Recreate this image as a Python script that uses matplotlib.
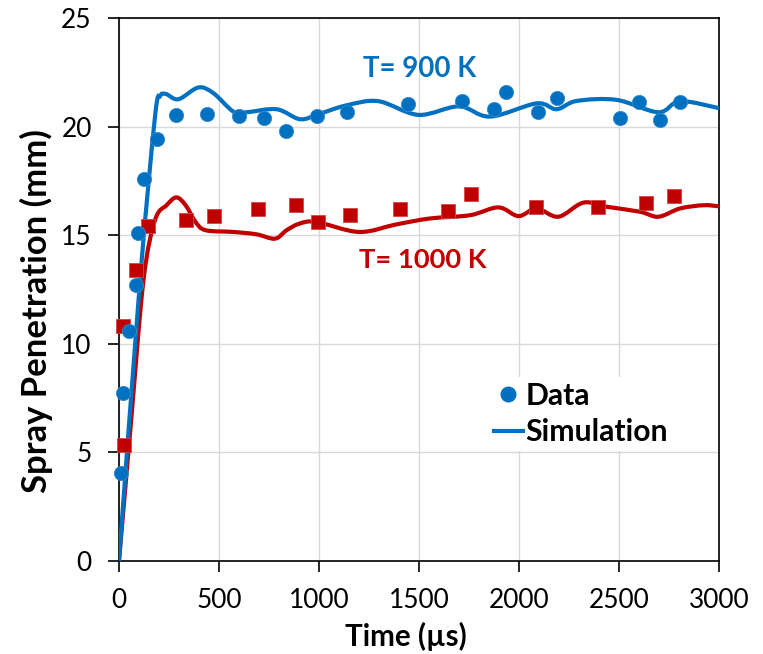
import matplotlib
matplotlib.use("Agg")
import numpy as np
import matplotlib.pyplot as plt
from matplotlib.lines import Line2D
from matplotlib.path import Path
from matplotlib.patches import PathPatch

FONT = ['Lato', 'DejaVu Sans']
plt.rcParams['font.family'] = FONT

# Measured data (T = 900 K)
t900_data = [8, 20, 52, 83, 95, 127, 190, 285, 440, 598, 723, 835, 992, 1142, 1447,
             1717, 1875, 1935, 2097, 2188, 2505, 2598, 2705, 2805]
s900_data = [4.05, 7.72, 10.61, 12.69, 15.1, 17.6, 19.41, 20.52, 20.6, 20.5, 20.41, 19.81,
             20.5, 20.69, 21.03, 21.2, 20.81, 21.61, 20.69, 21.3, 20.41, 21.12, 20.31, 21.12]

# Measured data (T = 1000 K)
t1000_data = [22, 23, 83, 147, 333, 475, 695, 883, 993, 1155, 1405, 1647, 1758, 2085,
              2397, 2635, 2777]
s1000_data = [10.8, 5.32, 13.38, 15.43, 15.72, 15.9, 16.21, 16.41, 15.61, 15.92, 16.2,
              16.12, 16.89, 16.3, 16.3, 16.5, 16.81]

# Simulation (T = 900 K)
t900_sim = [0, 105, 180, 205, 235, 297, 397, 472, 572, 638, 788, 905, 1000, 1138, 1297,
            1497, 1700, 1855, 2088, 2188, 2288, 2488, 2697, 2805, 3000]
s900_sim = [0, 12.9, 20.45, 21.4, 21.5, 21.26, 21.8, 21.54, 20.69, 20.66, 20.8, 20.34,
            20.58, 20.98, 21.17, 20.54, 20.93, 20.46, 21.07, 20.8, 21.18, 21.23, 20.66,
            21.17, 20.85]

# Simulation (T = 1000 K)
t1000_sim = [0, 60, 122, 180, 238, 287, 333, 383, 433, 572, 688, 780, 838, 905, 988,
             1200, 1388, 1555, 1755, 1897, 1997, 2088, 2197, 2322, 2438, 2605, 2697, 2805,
             2922, 3000]
s1000_sim = [0, 6.4, 12.9, 15.69, 16.38, 16.74, 16.38, 15.61, 15.23, 15.15, 15.04, 14.84,
             15.23, 15.54, 15.61, 15.15, 15.5, 15.77, 15.92, 16.28, 15.88, 16.23, 15.85,
             16.5, 16.31, 16.08, 15.85, 16.23, 16.38, 16.33]

x_ticks = [0, 500, 1000, 1500, 2000, 2500, 3000]
y_ticks = [0, 5, 10, 15, 20, 25]

blue = '#0070C0'
red = '#C00000'


def smooth_path(x, y):
    """Smoothed (Catmull-Rom style) line through the given points, as a Bezier path."""
    x = np.asarray(x, float)
    y = np.asarray(y, float)
    n = len(x)
    verts = [(x[0], y[0])]
    codes = [Path.MOVETO]
    for i in range(n - 1):
        a = i - 1 if i > 0 else i
        d = i + 2 if i + 2 < n else i + 1
        c1 = (x[i] + (x[i + 1] - x[a]) / 6, y[i] + (y[i + 1] - y[a]) / 6)
        c2 = (x[i + 1] - (x[d] - x[i]) / 6, y[i + 1] - (y[d] - y[i]) / 6)
        verts += [c1, c2, (x[i + 1], y[i + 1])]
        codes += [Path.CURVE4] * 3
    return Path(verts, codes)


fig = plt.figure(figsize=(7.63, 6.54), dpi=100)
ax = fig.add_axes([119/763, 1 - 561/654, 600/763, 543/654])
renderer = fig.canvas.get_renderer()


def fit_size(s, target_px, weight='normal', base=20.0):
    t = fig.text(0, 0, s, fontsize=base, fontweight=weight, family=FONT)
    w = t.get_window_extent(renderer).width
    t.remove()
    return base * target_px / w


tick_fs = fit_size('1000', 61)
xlab_fs = fit_size('Time (µs)', 122, 'bold')
ylab_fs = fit_size('Spray Penetration (mm)', 363, 'bold')
t900_fs = fit_size('T= 900 K', 113, 'bold')
t1000_fs = fit_size('T= 1000 K', 128, 'bold')
leg_fs = fit_size('Simulation', 142, 'bold')

ax.add_patch(PathPatch(smooth_path(t1000_sim, s1000_sim), fill=False, edgecolor=red,
                       lw=3, capstyle='round', zorder=3))
ax.add_patch(PathPatch(smooth_path(t900_sim, s900_sim), fill=False, edgecolor=blue,
                       lw=3, capstyle='round', zorder=3))
ax.scatter(t1000_data, s1000_data, marker='s', s=95, color=red, edgecolors='#d04848',
           linewidths=0.6, zorder=4, clip_on=False)
ax.scatter(t900_data, s900_data, marker='o', s=105, color=blue, edgecolors='#3a8ad0',
           linewidths=0.6, zorder=5, clip_on=False)

ax.set_xlim(0, 3000)
ax.set_ylim(0, 25)
ax.set_xticks(x_ticks)
ax.set_yticks(y_ticks)
ax.grid(True, color='#d9d9d9', lw=1)
ax.set_axisbelow(True)
for sp in ax.spines.values():
    sp.set_color('black')
    sp.set_linewidth(1.2)
ax.tick_params(axis='both', direction='out', length=7.7, width=1.2, labelsize=tick_fs,
               colors='black')
ax.tick_params(axis='y', pad=12)
ax.tick_params(axis='x', pad=12)

ax.set_xlabel('Time (µs)', fontsize=xlab_fs, fontweight='bold')
ax.xaxis.label.set_verticalalignment('baseline')
ax.xaxis.set_label_coords(0.478, (561 - 646) / 543)
ax.set_ylabel('Spray Penetration (mm)', fontsize=ylab_fs, fontweight='bold')
ax.yaxis.label.set_verticalalignment('baseline')
ax.yaxis.set_label_coords((47 - 119) / 600, (561 - 311) / 543)

ax.text(1505, 22.63, 'T= 900 K', color=blue, fontsize=t900_fs, fontweight='bold',
        ha='center', va='center')
ax.text(1517, 13.86, 'T= 1000 K', color=red, fontsize=t1000_fs, fontweight='bold',
        ha='center', va='center')

handles = [Line2D([], [], marker='o', ls='none', color=blue, markersize=10.5),
           Line2D([], [], color=blue, lw=3)]
leg_px = leg_fs * 100 / 72
ax.legend(handles, ['Data', 'Simulation'], loc='upper left',
          bbox_to_anchor=(489/763, 1 - 377/654), bbox_transform=fig.transFigure,
          frameon=True, framealpha=1, edgecolor='none', fancybox=False,
          handlelength=29/leg_px, handletextpad=3/leg_px, borderpad=0.15,
          borderaxespad=0, labelspacing=0.29,
          prop={'size': leg_fs, 'weight': 'bold', 'family': FONT})

fig.savefig('out.png', dpi=100)
